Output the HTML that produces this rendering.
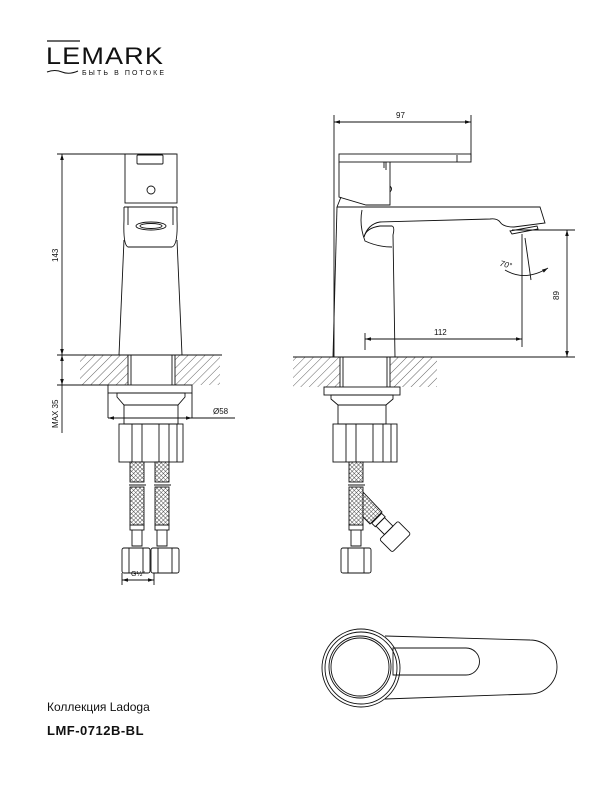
<!DOCTYPE html>
<html><head><meta charset="utf-8"><style>
html,body{margin:0;padding:0;background:#fff;}
svg{display:block;}
text{font-family:"Liberation Sans",sans-serif;fill:#111;}
</style></head><body>
<svg width="600" height="800" viewBox="0 0 600 800" xmlns="http://www.w3.org/2000/svg">
<defs>
<pattern id="h" width="6" height="6" patternUnits="userSpaceOnUse" patternTransform="rotate(45)">
<line x1="0" y1="0" x2="0" y2="6" stroke="#222" stroke-width="0.7"/></pattern>
<pattern id="m" width="3" height="3" patternUnits="userSpaceOnUse" patternTransform="rotate(45)">
<rect width="3" height="3" fill="#fff"/><line x1="0" y1="0" x2="3" y2="0" stroke="#222" stroke-width="0.8"/><line x1="0" y1="0" x2="0" y2="3" stroke="#222" stroke-width="0.8"/></pattern>
<marker id="a" viewBox="0 0 10 6" refX="10" refY="3" markerWidth="7" markerHeight="4" orient="auto-start-reverse"><path d="M0,0 L10,3 L0,6z" fill="#111"/></marker>
</defs>
<g fill="none" stroke="#111" stroke-width="0.9">
<line x1="47" y1="41" x2="80" y2="41" stroke-width="1.2"/>
<path d="M47,72 q8,-3 15,0 t16,-1" stroke-width="1"/>
</g>
<text x="46" y="64" font-size="24" textLength="118" lengthAdjust="spacingAndGlyphs" letter-spacing="1">LEMARK</text>
<text x="82" y="75" font-size="7" textLength="83" letter-spacing="1">БЫТЬ В ПОТОКЕ</text>

<g fill="none" stroke="#111" stroke-width="0.9">
<rect x="80" y="355" width="48" height="30" fill="url(#h)" stroke="none"/>
<rect x="175" y="355" width="45" height="30" fill="url(#h)" stroke="none"/>
<line x1="57" y1="355" x2="222" y2="355"/>
<line x1="128" y1="355" x2="128" y2="385"/><line x1="131" y1="355" x2="131" y2="385"/>
<line x1="172" y1="355" x2="172" y2="385"/><line x1="175" y1="355" x2="175" y2="385"/>
<line x1="57" y1="154" x2="176" y2="154"/>
<line x1="62" y1="154" x2="62" y2="355" marker-start="url(#a)" marker-end="url(#a)"/>
<line x1="62" y1="355" x2="62" y2="385" marker-start="url(#a)" marker-end="url(#a)"/>
<line x1="62" y1="385" x2="62" y2="433"/>
<line x1="57" y1="385" x2="108" y2="385"/>
<rect x="125" y="154" width="52" height="49"/>
<rect x="137" y="155" width="26" height="9" rx="1"/>
<circle cx="151" cy="190" r="4"/>
<path d="M124,207 H177 M124,207 V220 M177,207 V220 M128,207 V225 M173,207 V225"/>
<path d="M124,220 Q123,245 128,247 H172 Q178,245 177,220"/>
<ellipse cx="151" cy="226" rx="15" ry="4"/><ellipse cx="151" cy="226" rx="11" ry="2.5"/>
<path d="M124,240 L119,355 M177,240 L182,355"/>
<rect x="108" y="385" width="84" height="8"/>
<path d="M117,393 H185 V397 L178,405 H124 L117,397Z"/>
<rect x="124" y="405" width="54" height="19"/>
<line x1="108" y1="393" x2="108" y2="418"/><line x1="192" y1="393" x2="192" y2="418"/>
<line x1="108" y1="418" x2="235" y2="418" marker-start="url(#a)"/>
<line x1="108" y1="418" x2="192" y2="418" marker-end="url(#a)"/>
<rect x="119" y="424" width="64" height="38"/>
<path d="M132,424V462 M142,424V462 M159,424V462 M169,424V462 M177,424V462"/>
<rect x="130" y="462" width="14" height="20" fill="url(#m)"/>
<rect x="155" y="462" width="14" height="20" fill="url(#m)"/>
<line x1="129" y1="485" x2="146" y2="485"/><line x1="154" y1="485" x2="171" y2="485"/>
<rect x="130" y="487" width="14" height="38" fill="url(#m)"/>
<rect x="155" y="487" width="14" height="38" fill="url(#m)"/>
<rect x="130" y="525" width="14" height="5"/><rect x="155" y="525" width="14" height="5"/>
<path d="M132,530 V546 H142 V530 M157,530 V546 H167 V530"/>
<rect x="122" y="548" width="28" height="25" rx="2"/><path d="M129,548V573 M143,548V573"/>
<rect x="151" y="548" width="28" height="25" rx="2"/><path d="M158,548V573 M172,548V573"/>
<line x1="122" y1="573" x2="122" y2="585"/><line x1="154" y1="573" x2="154" y2="585"/>
<line x1="122" y1="580" x2="154" y2="580" marker-start="url(#a)" marker-end="url(#a)"/>

<rect x="293" y="357" width="47" height="30" fill="url(#h)" stroke="none"/>
<rect x="390" y="357" width="47" height="30" fill="url(#h)" stroke="none"/>
<line x1="293" y1="357" x2="575" y2="357"/>
<path d="M340,357V387 M343,357V387 M387,357V387 M390,357V387"/>
<line x1="334" y1="115" x2="334" y2="357"/>
<line x1="471" y1="115" x2="471" y2="160"/>
<line x1="334" y1="122" x2="471" y2="122" marker-start="url(#a)" marker-end="url(#a)"/>
<rect x="339" y="154" width="132" height="8"/>
<line x1="457" y1="155" x2="457" y2="162"/>
<path d="M339,162 V197 L366,205 H390 V162 M384,162 V168 M386,162 V170"/>
<path d="M390,186 q3,3 0,6"/>
<path d="M341,197 L337,207 H540 L545,223 L514,227 Q503,227 500,222 Q497,218 490,219 L380,222 Q368,224 364,237"/>
<path d="M337,207 L333,357"/>
<path d="M362,210 Q359,225 365,241 Q378,247 392,247"/>
<path d="M364,237 Q366,228 380,226 L392,226 Q395,227 393,235 L395,357"/>
<path d="M510,231 L537,226 L538,229 L512,234Z"/>
<line x1="522" y1="234" x2="522" y2="347"/>
<line x1="525" y1="238" x2="531" y2="280"/>
<path d="M505,270 Q525,282 548,268" marker-end="url(#a)"/>
<line x1="512" y1="230" x2="575" y2="230"/>
<line x1="567" y1="230" x2="567" y2="357" marker-start="url(#a)" marker-end="url(#a)"/>
<line x1="365" y1="333" x2="365" y2="350"/>
<line x1="365" y1="339" x2="522" y2="339" marker-start="url(#a)" marker-end="url(#a)"/>
<rect x="324" y="387" width="76" height="8"/>
<path d="M331,395 H393 V399 L386,405 H338 L331,399Z"/>
<rect x="338" y="405" width="48" height="19"/>
<rect x="333" y="424" width="64" height="38"/>
<path d="M346,424V462 M356,424V462 M373,424V462 M383,424V462 M391,424V462"/>
<rect x="349" y="462" width="14" height="20" fill="url(#m)"/>
<line x1="348" y1="485" x2="365" y2="485"/>
<rect x="349" y="487" width="14" height="38" fill="url(#m)"/>
<path d="M363,492 L382,512 L370,524 L363,517Z" fill="url(#m)"/>
<g transform="translate(376,519) rotate(-45)"><rect x="-6" y="0" width="14" height="5"/><rect x="-5" y="5" width="12" height="12"/><rect x="-12" y="17" width="26" height="18" rx="2"/></g>
<rect x="349" y="525" width="14" height="5"/>
<path d="M351,530 V546 H361 V530"/>
<rect x="341" y="548" width="30" height="25" rx="2"/><path d="M348,548V573 M364,548V573"/>

<circle cx="361" cy="668" r="39"/><circle cx="361" cy="668" r="36"/>
<circle cx="360" cy="667" r="31"/><circle cx="360" cy="667" r="29"/>
<path d="M385,636 L530,640 A27,27 0 0 1 530,694 L385,699"/>
<path d="M393,648 H466 A13.5,13.5 0 0 1 466,675 H393 Z"/>
</g>

<text font-size="8" transform="translate(58,262) rotate(-90)">143</text>
<text font-size="8" transform="translate(58,428) rotate(-90)">MAX 35</text>
<text x="213" y="414" font-size="8">Ø58</text>
<text x="131" y="576" font-size="7">G½"</text>
<text x="396" y="118" font-size="8">97</text>
<text x="434" y="335" font-size="8">112</text>
<text font-size="8" transform="translate(559,300) rotate(-90)">89</text>
<text x="500" y="267" font-size="8" font-style="italic" transform="rotate(15 505 264)">70°</text>
<text x="47" y="711" font-size="12">Коллекция Ladoga</text>
<text x="47" y="735" font-size="13" font-weight="bold" letter-spacing="0.5">LMF-0712B-BL</text>
</svg>
</body></html>
